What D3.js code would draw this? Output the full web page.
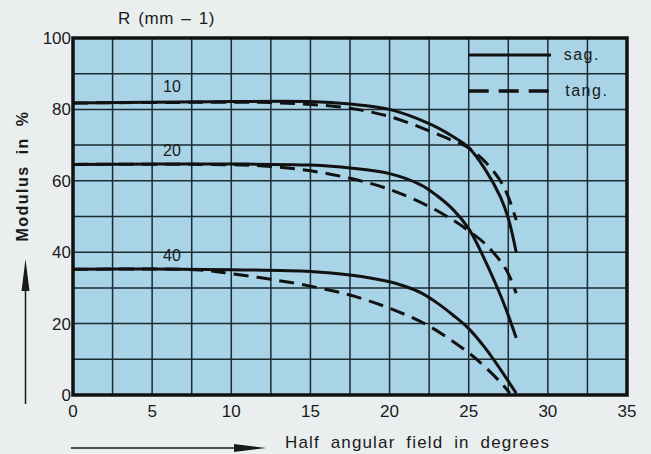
<!DOCTYPE html>
<html>
<head>
<meta charset="utf-8">
<script src="https://cdn.jsdelivr.net/npm/d3@7"></script>
<style>
  body { margin: 0; background: #eaeeef; }
  svg { display: block; font-family: "Liberation Sans", Arial, sans-serif; }
</style>
</head>
<body>
<script>
// angles in degrees, modulus in %
const sag10 = [[0,81.8],[5,82],[10,82.2],[15,82.2],[17.5,81.5],[20,80],[22.5,76],[24,72.4],[25,69.3],[26,63.5],[27,55.5],[27.5,49.5],[28,40]];
const tang10 = [[0,81.8],[10,82],[12.5,81.9],[15,81.4],[17.5,80.3],[20,78],[22.5,74],[24,71.2],[25,69.2],[26,65.5],[27,60],[27.5,55.5],[28,49]];
const sag20 = [[0,64.6],[10,64.7],[15,64.4],[17.5,63.6],[20,62],[22,58.8],[23,55.8],[24,52],[25,46.6],[26,38],[27,28],[27.5,22.3],[28,16]];
const tang20 = [[0,64.6],[10,64.5],[12.5,64],[15,62.8],[17.5,60.7],[20,57.6],[22.5,52.8],[24,49],[25,46],[26,42.5],[27,37.5],[27.5,34],[28,28.5]];
const sag40 = [[0,35.2],[5,35.3],[10,35.1],[15,34.6],[17.5,33.6],[20,31.7],[21,30.4],[22,28.6],[23,25.8],[24,22.4],[25,18.6],[26,13.4],[27,7.2],[28,0.5]];
const tang40 = [[0,35.2],[5,35.3],[8,35],[10,34],[12.5,32.4],[15,30.5],[17.5,28],[20,24.3],[22.5,19.3],[25,11.8],[26,8],[27,3.6],[27.6,0.5]];

const xTicks = [0,5,10,15,20,25,30,35];
const yTicks = [0,20,40,60,80,100];
const curveLabels = [["10",6.25,86.6],["20",6.25,68.6],["40",6.25,39.2]];

const W = 651, H = 454;
const margin = {top: 38, right: 24, bottom: 59, left: 73};
const width = W - margin.left - margin.right;
const height = H - margin.top - margin.bottom;

const x = d3.scaleLinear().domain([0, 35]).range([0, width]);
const y = d3.scaleLinear().domain([0, 100]).range([height, 0]);

const svg = d3.select("body").append("svg").attr("width", W).attr("height", H);
const g = svg.append("g").attr("transform", `translate(${margin.left},${margin.top})`);

g.append("rect").attr("width", width).attr("height", height).attr("fill", "#a9d3e6");

// grid every 2.5 deg and every 10 %
g.append("g").selectAll("line").data(d3.range(2.5, 35, 2.5)).enter().append("line")
  .attr("x1", d => x(d)).attr("x2", d => x(d)).attr("y1", 0).attr("y2", height)
  .attr("stroke", "#1a2a30").attr("stroke-width", 1.5);
g.append("g").selectAll("line").data(d3.range(10, 100, 10)).enter().append("line")
  .attr("y1", d => y(d)).attr("y2", d => y(d)).attr("x1", 0).attr("x2", width)
  .attr("stroke", "#1a2a30").attr("stroke-width", 1.5);

// frame
g.append("rect").attr("width", width).attr("height", height)
  .attr("fill", "none").attr("stroke", "#111").attr("stroke-width", 3.5);

// tick labels
g.append("g").selectAll("text").data(xTicks).enter().append("text")
  .attr("x", d => x(d)).attr("y", height + 22).attr("text-anchor", "middle")
  .attr("font-size", 17).attr("fill", "#1a1a1a").text(d => d);
g.append("g").selectAll("text").data(yTicks).enter().append("text")
  .attr("x", -2).attr("y", d => y(d) + 6).attr("text-anchor", "end")
  .attr("font-size", 17).attr("fill", "#1a1a1a").text(d => d);

// curves
const line = d3.line().x(d => x(d[0])).y(d => y(d[1])).curve(d3.curveCatmullRom.alpha(0.5));
[sag10, sag20, sag40].forEach(s => {
  g.append("path").datum(s).attr("d", line).attr("fill", "none")
    .attr("stroke", "#111").attr("stroke-width", 3);
});
[tang10, tang20, tang40].forEach(s => {
  g.append("path").datum(s).attr("d", line).attr("fill", "none")
    .attr("stroke", "#111").attr("stroke-width", 3).attr("stroke-dasharray", "15,8");
});

g.selectAll(".clab").data(curveLabels).enter().append("text")
  .attr("x", d => x(d[1])).attr("y", d => y(d[2]) + 6).attr("text-anchor", "middle")
  .attr("font-size", 16).attr("fill", "#1a1a1a").text(d => d[0]);

// legend
const leg = g.append("g");
leg.append("line").attr("x1", x(25)).attr("x2", x(30.2)).attr("y1", 17).attr("y2", 17)
  .attr("stroke", "#111").attr("stroke-width", 3);
leg.append("line").attr("x1", x(25)).attr("x2", x(30.2)).attr("y1", 53).attr("y2", 53)
  .attr("stroke", "#111").attr("stroke-width", 3.5).attr("stroke-dasharray", "20,10");
leg.append("text").attr("x", x(31)).attr("y", 22).attr("font-size", 16)
  .attr("letter-spacing", 1.5).attr("fill", "#1a1a1a").text("sag.");
leg.append("text").attr("x", x(31.1)).attr("y", 58).attr("font-size", 16)
  .attr("letter-spacing", 1.5).attr("fill", "#1a1a1a").text("tang.");

// titles
svg.append("text").attr("x", 118).attr("y", 24).attr("font-size", 17)
  .attr("letter-spacing", 0.6).attr("word-spacing", 2)
  .attr("fill", "#1a1a1a").text("R (mm \u2013 1)");

svg.append("text").attr("transform", "translate(28,176) rotate(-90)")
  .attr("text-anchor", "middle").attr("font-size", 16).attr("font-weight", "bold")
  .attr("letter-spacing", 1.5).attr("word-spacing", 5).attr("fill", "#1a1a1a").text("Modulus in %");

svg.append("text").attr("x", 285).attr("y", 448).attr("font-size", 17)
  .attr("letter-spacing", 1.15).attr("word-spacing", 5).attr("fill", "#1a1a1a")
  .text("Half angular field in degrees");

// arrows
svg.append("line").attr("x1", 25.5).attr("x2", 25.5).attr("y1", 404).attr("y2", 280)
  .attr("stroke", "#1a1a1a").attr("stroke-width", 1.5);
svg.append("path").attr("d", "M25.5,259 L21.5,291 L29.5,291 Z").attr("fill", "#1a1a1a");
svg.append("line").attr("x1", 71).attr("x2", 245).attr("y1", 448).attr("y2", 448)
  .attr("stroke", "#1a1a1a").attr("stroke-width", 1.5);
svg.append("path").attr("d", "M266,448 L234,444 L234,452 Z").attr("fill", "#1a1a1a");
</script>
</body>
</html>
